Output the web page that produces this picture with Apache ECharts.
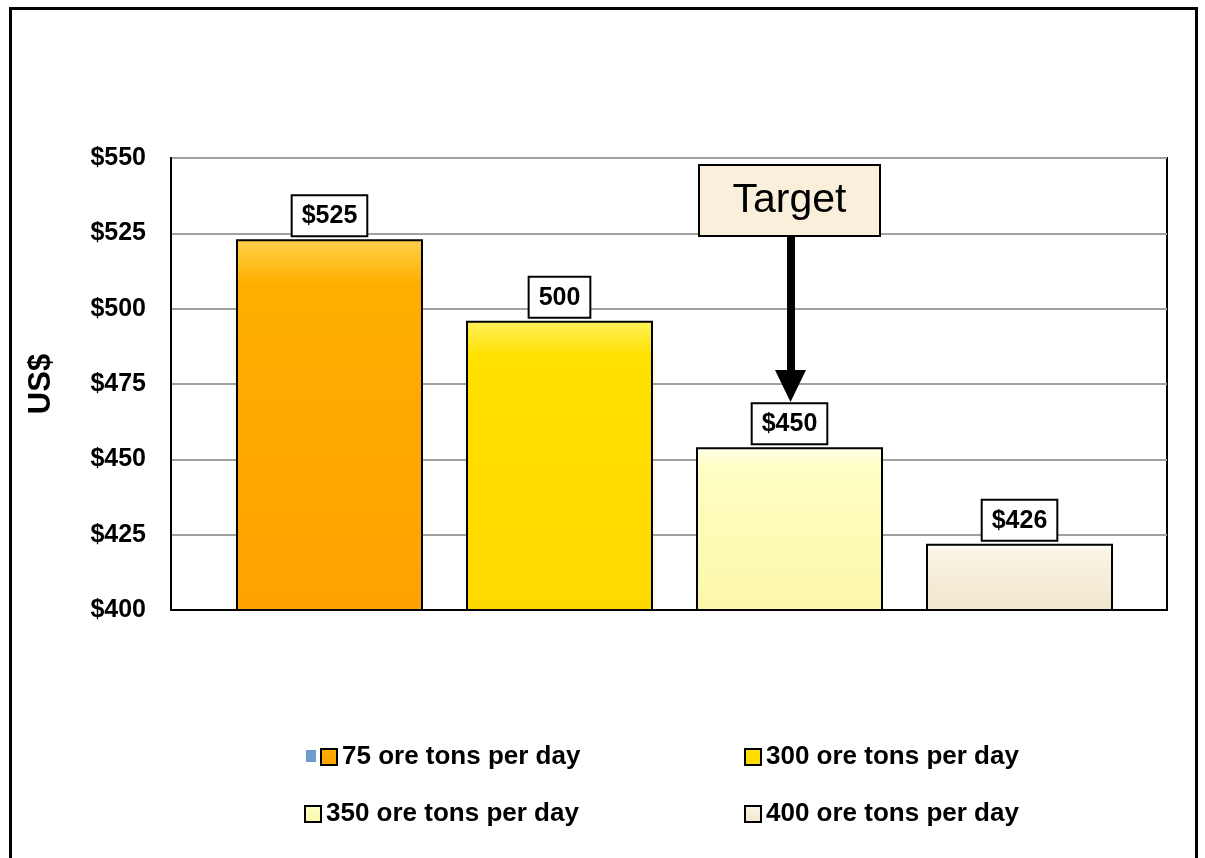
<!DOCTYPE html>
<html>
<head>
<meta charset="utf-8">
<script src="https://cdn.jsdelivr.net/npm/echarts@6/dist/echarts.min.js"></script>
<style>
  html, body { margin: 0; padding: 0; background: #fff; }
  #main { width: 1205px; height: 858px; }
</style>
</head>
<body>
<div id="main"></div>
<script>
var categories = [''];
var seriesNames = ['75 ore tons per day', '300 ore tons per day', '350 ore tons per day', '400 ore tons per day'];
var values = [523, 496, 454, 422];
var labelTexts = ['$525', '500', '$450', '$426'];
var yTicks = { min: 400, max: 550, step: 25 };

// top / main colour of each bar (bevel look)
var barColors = [
    ['#FFD24A', '#FFAE00', '#FFA200'],
    ['#FFF25A', '#FFE000', '#FFD800'],
    ['#FFFFE8', '#FFFFC4', '#FBF6A8'],
    ['#FFFFFF', '#FAF4E4', '#F0E6CC']
];

var FONT = '"Liberation Sans", Arial, sans-serif';

function grad(c) {
    return new echarts.graphic.LinearGradient(0, 0, 0, 1, [
        { offset: 0, color: c[0] },
        { offset: 0.12, color: c[1] },
        { offset: 1, color: c[2] }
    ]);
}

var series = seriesNames.map(function (name, i) {
    return {
        type: 'bar',
        name: name,
        xAxisIndex: 1,
        yAxisIndex: 1,
        barWidth: 187,
        barGap: '23%',
        data: [values[i]],
        itemStyle: {
            color: grad(barColors[i]),
            borderColor: '#000',
            borderWidth: 2
        },
        label: {
            show: true,
            position: 'top',
            distance: 4,
            formatter: function () { return labelTexts[i]; },
            color: '#000',
            fontFamily: FONT,
            fontWeight: 'bold',
            fontSize: 25,
            lineHeight: 26,
            backgroundColor: '#fff',
            borderColor: '#000',
            borderWidth: 2,
            padding: [7, 9, 6, 9]
        }
    };
});

// legend spots (2 x 2)
var legendPos = [[320, 744], [744, 744], [304, 801], [744, 801]];
var legends = seriesNames.map(function (name, i) {
    return {
        data: [name],
        left: legendPos[i][0],
        top: legendPos[i][1],
        padding: 0,
        icon: 'rect',
        itemWidth: 16,
        itemHeight: 16,
        itemGap: 5,
        selectedMode: false,
        textStyle: { fontFamily: FONT, fontWeight: 'bold', fontSize: 26, color: '#000' }
    };
});

var chart = echarts.init(document.getElementById('main'));
chart.setOption({
    animation: false,
    backgroundColor: '#fff',
    legend: legends,
    grid: [
        // frame + value axis
        { left: 171, right: 38, top: 158, bottom: 248,
          show: true, borderColor: '#000', borderWidth: 2 },
        // bars (slightly offset, as in the original)
        { left: 182, right: 38, top: 158, bottom: 248 }
    ],
    xAxis: [{
        type: 'category',
        gridIndex: 0,
        data: categories,
        axisLine: { lineStyle: { color: '#000', width: 2 } },
        axisTick: { show: false },
        axisLabel: { show: false }
    }, {
        type: 'category',
        gridIndex: 1,
        data: categories,
        show: false
    }],
    yAxis: [{
        type: 'value',
        gridIndex: 0,
        min: yTicks.min,
        max: yTicks.max,
        interval: yTicks.step,
        name: 'US$',
        nameLocation: 'middle',
        nameGap: 114,
        nameTextStyle: { fontFamily: FONT, fontWeight: 'bold', fontSize: 31, color: '#000' },
        axisLine: { show: true, lineStyle: { color: '#000', width: 2 } },
        axisTick: { show: false },
        axisLabel: {
            margin: 25,
            padding: [8, 0, 0, 0],
            formatter: function (v) { return '$' + v; },
            fontFamily: FONT, fontWeight: 'bold', fontSize: 25, color: '#000'
        },
        splitLine: { lineStyle: { color: '#A0A0A0', width: 2 } }
    }, {
        type: 'value',
        gridIndex: 1,
        min: yTicks.min,
        max: yTicks.max,
        interval: yTicks.step,
        show: false,
        splitLine: { show: false }
    }],
    graphic: [
        // outer frame
        { type: 'rect', shape: { x: 10.5, y: 8.5, width: 1186, height: 900 },
          style: { fill: 'none', stroke: '#000', lineWidth: 3 }, z: 100 },
        // target box
        { type: 'rect', shape: { x: 699, y: 165, width: 181, height: 71 },
          style: { fill: '#F9EFDB', stroke: '#000', lineWidth: 2 }, z: 100 },
        { type: 'text', x: 789.5, y: 201,
          style: { text: 'Target', fontFamily: FONT, fontSize: 41, fill: '#000', align: 'center', verticalAlign: 'middle' }, z: 101 },
        // arrow
        { type: 'rect', shape: { x: 787, y: 236, width: 8, height: 138 },
          style: { fill: '#000' }, z: 100 },
        { type: 'polygon', shape: { points: [[775, 370], [806, 370], [790.5, 402]] },
          style: { fill: '#000' }, z: 100 },
        // stray legend marker
        { type: 'rect', shape: { x: 306, y: 750, width: 10, height: 12 },
          style: { fill: '#6E9BD0' }, z: 99 }
    ],
    series: series
});
</script>
</body>
</html>
